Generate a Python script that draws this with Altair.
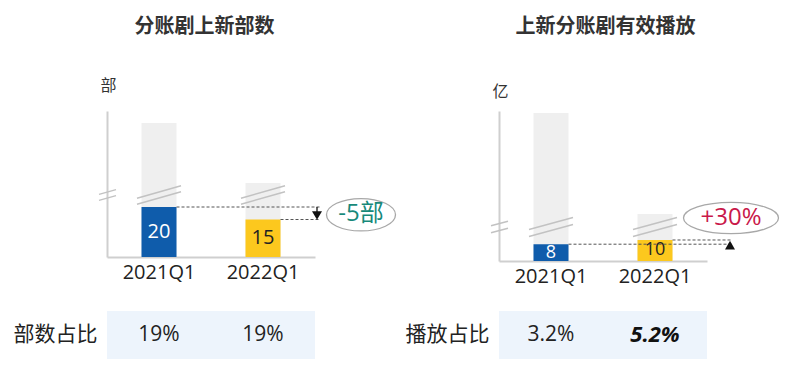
import altair as alt
import pandas as pd

FONT = "Open Sans, Noto Sans CJK SC, sans-serif"

# ---------------- data ----------------
cats = ["2021Q1", "2022Q1"]

new_counts = [20, 15]          # 分账剧上新部数
count_totals = [105, 79]       # total (grey, broken bars)
count_share = ["19%", "19%"]
count_share_bold = [False, False]
count_delta = "-5部"

plays = [8, 10]                # 上新分账剧有效播放 (亿)
play_totals = [250, 192]
play_share = ["3.2%", "5.2%"]
play_share_bold = [False, True]
play_delta = "+30%"

bar_colors = ["#0f5cab", "#fcc81e"]
label_colors = ["#ffffff", "#222222"]

AXIS_GREY = "#cfcfcf"
BREAK_GREY = "#c2c2c2"

xscale = alt.Scale(domain=cats, paddingInner=0, paddingOuter=0)


def panel(title_text, title_off, title_dx, unit_text, unit_y, values, totals,
          seg, px_lo, height, brk_half, brk_rise, delta_text, delta_color,
          delta_dx, delta_yoff, delta_text_yoff, ell_path, ell_size, dash_end,
          marker_dx, marker_shape, marker_yoff, stem, label_size):
    yscale = alt.Scale(domain=seg, range=[height, height - px_lo, height - px_lo, 0],
                       nice=False, zero=False)
    yaxis = alt.Axis(labels=False, ticks=False, grid=False, domainColor=AXIS_GREY,
                     domainWidth=2, title=unit_text, titleAngle=0, titleAlign="center",
                     titleBaseline="middle", titleX=1, titleY=unit_y, titleFontSize=16,
                     titleFontWeight="normal", titleColor="#333333", titleFont=FONT)
    xaxis = alt.Axis(title=None, ticks=False, labelAngle=0, labelFontSize=20,
                     labelColor="#222222", labelPadding=5, labelFont=FONT,
                     domainColor=AXIS_GREY, domainWidth=2)
    X = alt.X("cat:N", scale=xscale, axis=xaxis)

    def Y(field):
        return alt.Y(field, type="quantitative", scale=yscale, axis=yaxis)

    df = pd.DataFrame({
        "cat": cats, "value": values, "total": totals, "bar": bar_colors,
        "lab": label_colors, "mid": [v / 2 for v in values],
        "text": [str(v) for v in values], "end": cats[-1],
        "brk": (seg[1] + seg[2]) / 2,
    })
    ann = pd.DataFrame({"end": [cats[-1]], "a": [values[0]], "b": [values[1]],
                        "m": [(values[0] + values[1]) / 2], "hi": [max(values)],
                        "lo": [min(values)], "delta": [delta_text],
                        "brk": [(seg[1] + seg[2]) / 2]})

    grey = alt.Chart(df).mark_bar(size=35, color="#efefef").encode(x=X, y=Y("total"))
    col = alt.Chart(df).mark_bar(size=35).encode(
        x=X, y=Y("value"), color=alt.Color("bar:N", scale=None))
    lab = alt.Chart(df).mark_text(fontSize=label_size, font=FONT, baseline="middle").encode(
        x=X, y=Y("mid"), text="text:N", color=alt.Color("lab:N", scale=None))

    layers = [grey, col, lab]
    # break marks across the bars and on the y axis
    for c in (-brk_half, brk_half):
        layers.append(alt.Chart(df).mark_rule(
            color=BREAK_GREY, strokeWidth=1.5, xOffset=-22, x2Offset=22,
            yOffset=c + brk_rise, y2Offset=c - brk_rise).encode(
            x=X, x2=alt.X2("cat"), y=Y("brk"), y2=alt.Y2("brk")))
        layers.append(alt.Chart(ann).mark_rule(
            color=BREAK_GREY, strokeWidth=1.5, xOffset=-8, x2Offset=9,
            yOffset=c + brk_rise * 0.38, y2Offset=c - brk_rise * 0.38).encode(
            x=alt.value(0), x2=alt.value(0), y=Y("brk"), y2=alt.Y2("brk")))
    # dashed comparison lines
    layers.append(alt.Chart(df).mark_rule(
        color="#555555", strokeWidth=1, strokeDash=[3, 2], xOffset=17.5,
        x2Offset=dash_end).encode(x=X, x2=alt.X2("end"), y=Y("value")))
    # arrow / marker
    if stem:
        layers.append(alt.Chart(ann).mark_rule(
            color="#111111", strokeWidth=1.3, xOffset=marker_dx, y2Offset=-6).encode(
            x=alt.X("end:N", scale=xscale, axis=xaxis), y=Y("a"), y2=alt.Y2("b")))
    layers.append(alt.Chart(ann).mark_point(
        shape=marker_shape, filled=True, color="#111111", size=100, opacity=1,
        xOffset=marker_dx, yOffset=marker_yoff).encode(
        x=alt.X("end:N", scale=xscale, axis=xaxis),
        y=Y("b" if stem else "a")))
    # ellipse callout
    layers.append(alt.Chart(ann).mark_point(
        shape=ell_path, size=ell_size, filled=False, color="#a8a8a8",
        strokeWidth=1.3, opacity=1, xOffset=delta_dx, yOffset=delta_yoff).encode(
        x=alt.X("end:N", scale=xscale, axis=xaxis), y=Y("m" if stem else "hi")))
    layers.append(alt.Chart(ann).mark_text(
        fontSize=24, font=FONT, color=delta_color, baseline="middle",
        xOffset=delta_dx, yOffset=delta_text_yoff).encode(
        x=alt.X("end:N", scale=xscale, axis=xaxis), y=Y("m" if stem else "hi"),
        text="delta:N"))

    return alt.layer(*layers).properties(
        width=208, height=height,
        title=alt.TitleParams(title_text, fontSize=20, fontWeight="bold",
                              color="#333333", font=FONT, anchor="middle",
                              baseline="middle", offset=title_off, dx=title_dx))


def table(row_label, shares, bold):
    tdf = pd.DataFrame({"cat": cats, "row": row_label, "share": shares, "bold": bold})
    Xt = alt.X("cat:N", scale=xscale, axis=None)
    Yt = alt.Y("row:N", scale=alt.Scale(paddingInner=0, paddingOuter=0),
               axis=alt.Axis(title=None, ticks=False, domain=False, labelFontSize=21,
                             labelColor="#222222", labelPadding=10, labelFont=FONT))
    rect = alt.Chart(tdf).mark_rect(color="#edf4fc").encode(x=Xt, y=Yt)
    txt = alt.Chart(tdf).transform_filter("!datum.bold").mark_text(
        fontSize=21, color="#222222", font=FONT).encode(x=Xt, y=Yt, text="share:N")
    btxt = alt.Chart(tdf).transform_filter("datum.bold").mark_text(
        fontSize=22, color="#111111", font=FONT, fontWeight="bold",
        fontStyle="italic").encode(x=Xt, y=Yt, text="share:N")
    return alt.layer(rect, txt, btxt).properties(width=208, height=48)


ell_left = "M-1,0A1,0.47,0,1,1,1,0A1,0.47,0,1,1,-1,0Z"
ell_right = "M-1,0A1,0.33,0,1,1,1,0A1,0.33,0,1,1,-1,0Z"

left = panel("分账剧上新部数", 30, -6.5, "部", -26, new_counts, count_totals,
             [0, 24.8, 73.8, 110.2], 62, 146, 3, 6.3, count_delta, "#17897a",
             98, 1.5, 1, ell_left, 69 ** 2, 57, 54, "triangle-down", -4, True, 20)
right = panel("上新分账剧有效播放", 36, 2.5, "亿", -20, plays, play_totals,
              [0, 16.19, 184.5, 251.15], 34, 150, 3.5, 6, play_delta, "#c9184a",
              76, -22, -22, ell_right, 95 ** 2, 77, 75, "triangle-up", 1, False, 18)

chart = alt.concat(
    left, right,
    table("部数占比", count_share, count_share_bold),
    table("播放占比", play_share, play_share_bold),
    columns=2, spacing={"row": 50, "column": 184}, bounds="flush",
).properties(
    padding={"top": 9, "left": 5, "right": 5, "bottom": 5}
).configure(font=FONT).configure_view(stroke=None)

chart.save("out.html", embed_options={"renderer": "svg", "actions": False})
